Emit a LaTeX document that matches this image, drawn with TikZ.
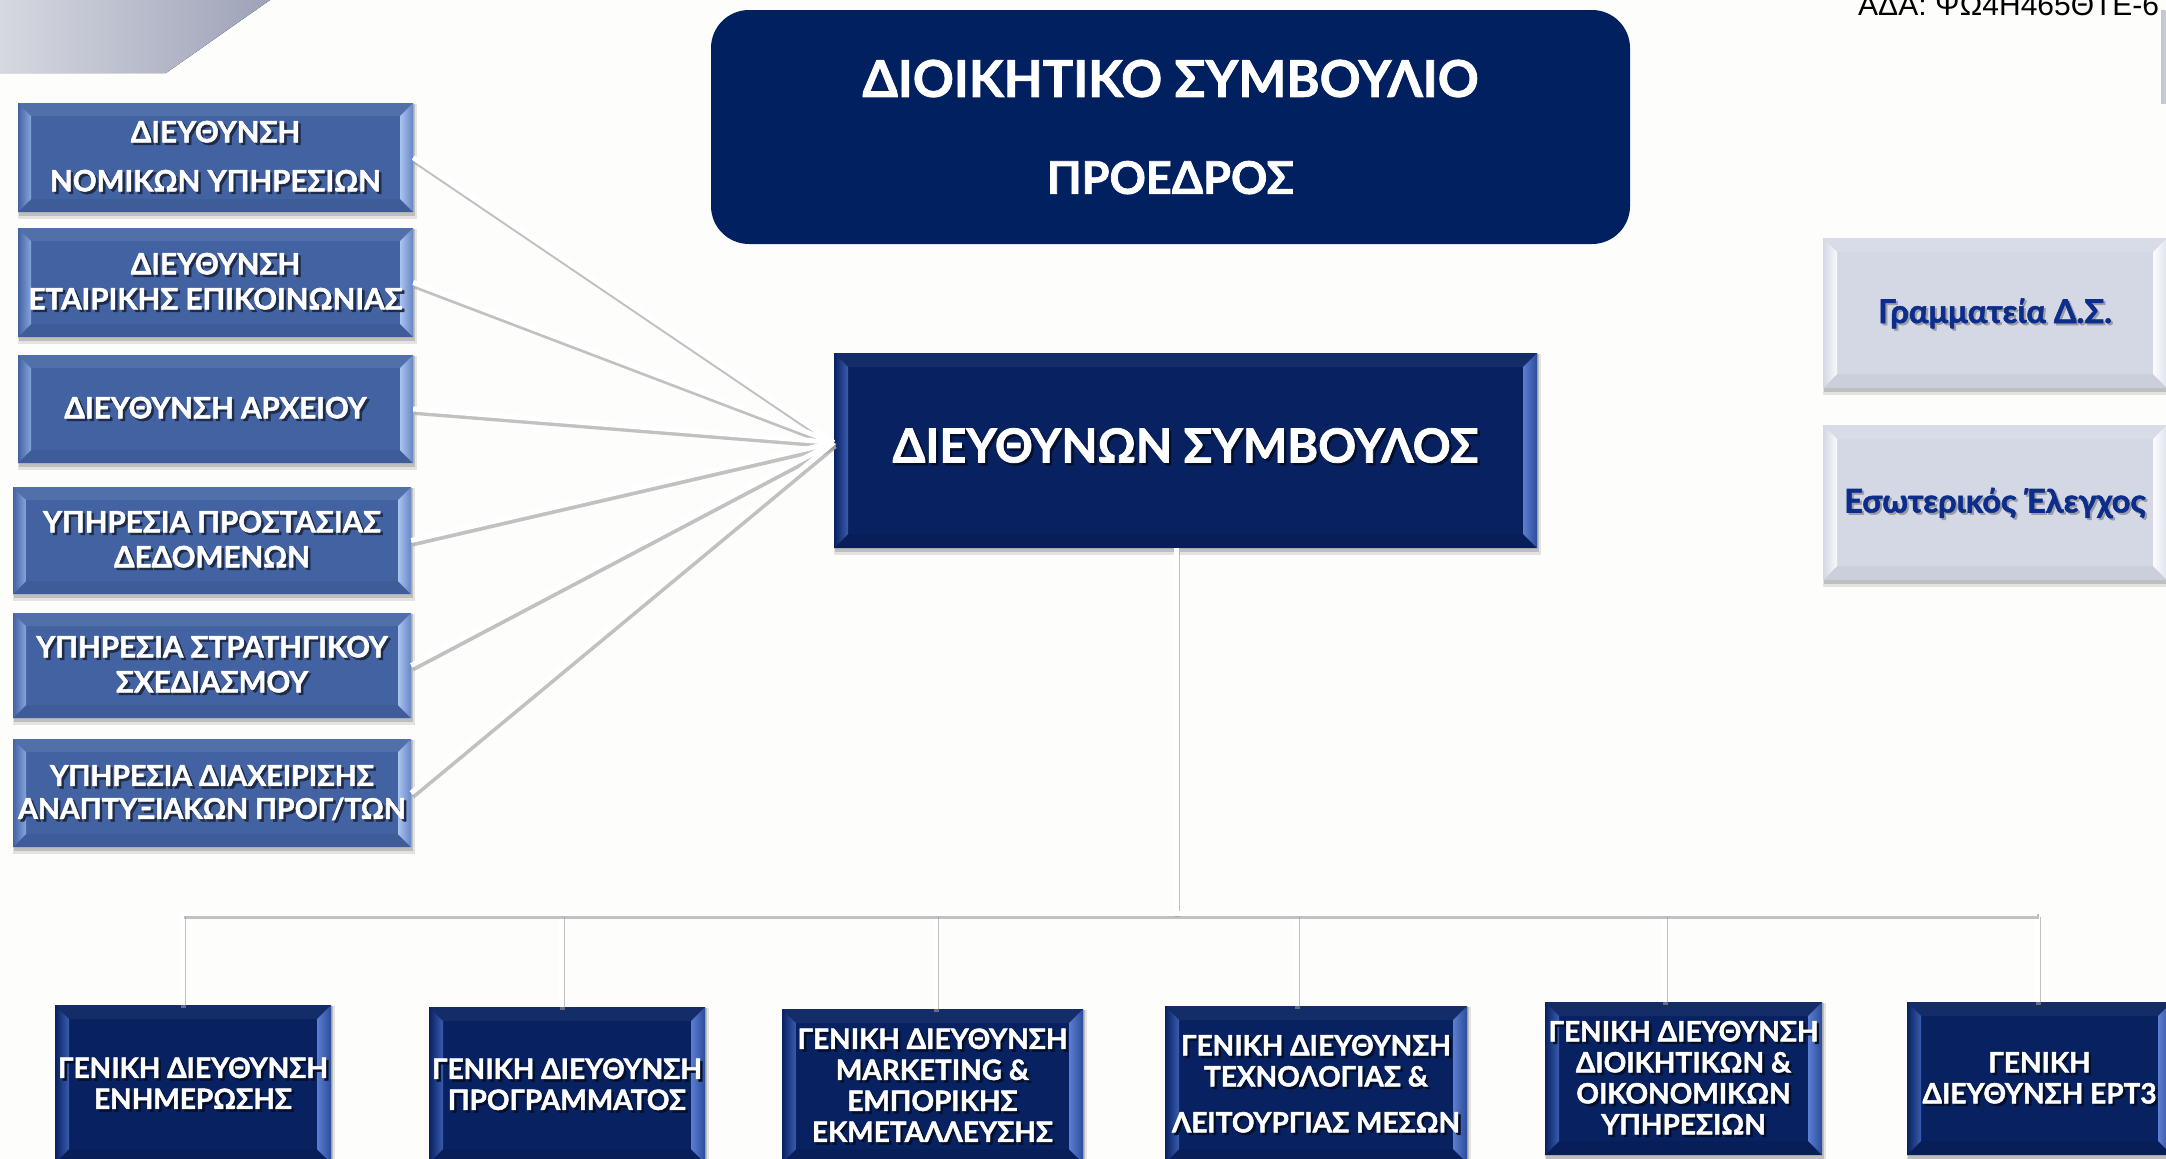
\documentclass[tikz,border=0pt]{standalone}
\usepackage{fontspec}
\setmainfont{Lato}[BoldFeatures={FakeBold=1.6}]
\newfontfamily\adafont{Liberation Sans}
\usetikzlibrary{calc}
\definecolor{bgc}{HTML}{FDFDFB}
\definecolor{navy}{HTML}{082160}
\definecolor{topnavy}{HTML}{002060}
\definecolor{midblue}{HTML}{4262A2}
\definecolor{rfill}{HTML}{D4D8E4}
\definecolor{rtext}{HTML}{0C2D8C}
\definecolor{gA}{HTML}{D6D8E1}
\definecolor{gB}{HTML}{9EA2B7}
\definecolor{nLin}{HTML}{3A5CB0}
\definecolor{nRin}{HTML}{5C7ED0}
\definecolor{nRout}{HTML}{2B4C9C}
\definecolor{lLin}{HTML}{86A5DE}
\definecolor{lRin}{HTML}{A9C4F0}
\definecolor{lRout}{HTML}{6786C4}
\pgfdeclarelayer{bglayer}
\pgfdeclarelayer{shadowlayer}
\pgfsetlayers{bglayer,shadowlayer,main}

\newcommand\bevfour[5]{%
  \path (path picture bounding box.north west) coordinate (bNW)
        (path picture bounding box.north east) coordinate (bNE)
        (path picture bounding box.south west) coordinate (bSW)
        (path picture bounding box.south east) coordinate (bSE);
  \fill[#2] (bNW) -- (bNE) -- ([shift={(-#1,-#1)}]bNE) -- ([shift={(#1,-#1)}]bNW) -- cycle;
  \fill[#5] (bSW) -- (bSE) -- ([shift={(-#1,#1)}]bSE) -- ([shift={(#1,#1)}]bSW) -- cycle;
  \fill[#3] (bNW) -- ([shift={(#1,-#1)}]bNW) -- ([shift={(#1,#1)}]bSW) -- (bSW) -- cycle;
  \fill[#4] (bNE) -- ([shift={(-#1,-#1)}]bNE) -- ([shift={(-#1,#1)}]bSE) -- (bSE) -- cycle;
}
\newcommand\boxshadow[1]{%
  \begin{pgfonlayer}{shadowlayer}
    \fill[black,opacity=0.10] ([shift={(0pt,-1pt)}]#1.north west) rectangle ([shift={(4pt,-7pt)}]#1.south east);
    \fill[black,opacity=0.16] ([shift={(1pt,-1pt)}]#1.north west) rectangle ([shift={(2pt,-4pt)}]#1.south east);
  \end{pgfonlayer}}
\newcommand\link[2]{%
  \draw[lnshadow] ([shift={(1.5pt,-3.5pt)}]#1) -- ([shift={(1.5pt,-3.5pt)}]#2);
  \draw[lnmain] (#1) -- (#2);}
% text with a soft drop shadow
\newcommand\fixstrut{\rule{0pt}{\dimexpr 0.72em+0.3\baselineskip+8pt\relax}}
\newcommand\shtx[3]{\leavevmode\rlap{\smash{\kern#3\raisebox{-#3}{\textcolor{#1}{\begin{tabular}{@{}c@{}}\fixstrut#2\end{tabular}}}}}\begin{tabular}{@{}c@{}}\fixstrut#2\end{tabular}}

\tikzset{
  lnshadow/.style={draw=black!40, line width=5pt, opacity=0.6},
  lnmain/.style={draw=white, line width=5pt},
  basebox/.style={rectangle, inner sep=0pt, align=center, font=\bfseries},
  lbox/.style={basebox, fill=midblue, text=white,
    font=\bfseries\fontsize{29.5}{35}\selectfont,
    path picture={\bevfour{13pt}{midblue!92!white}{left color=midblue, right color=lLin}{left color=lRin, right color=lRout}{midblue!94!black}}},
  nbox/.style={basebox, fill=navy, text=white,
    path picture={\bevfour{14pt}{navy!95!white}{left color=navy, right color=nLin}{left color=nRin, right color=nRout}{navy!92!black}}},
  bbox/.style={nbox, font=\bfseries\fontsize{28}{31}\selectfont},
  rbox/.style={basebox, fill=rfill, text=rtext,
    font=\bfseries\fontsize{32.5}{38}\selectfont,
    path picture={\bevfour{14pt}{rfill!90!white}{left color=rfill, right color=white!85!rfill}{left color=white!90!rfill, right color=rfill!70!white}{rfill!96!black}}},
}
\newcommand\ls[1]{\shtx{midblue!45!black}{#1}{2.5pt}}
\newcommand\ns[1]{\shtx{navy!45!black}{#1}{2.5pt}}
\newcommand\rs[1]{\shtx{rfill!72!black}{#1}{2pt}}

\begin{document}
\begin{tikzpicture}[x=1pt,y=-1pt]
\useasboundingbox (0,0) rectangle (2166,1159);
\begin{pgfonlayer}{bglayer}
  \fill[bgc] (0,0) rectangle (2166,1159);
  \fill[left color=gA, right color=gB] (0,0) -- (270,0) -- (166,73) -- (0,73) -- cycle;
  \fill[left color=rfill!80!gray, right color=rfill] (2161,10) rectangle (2175,103);
\end{pgfonlayer}

% top text
\node[anchor=base west, inner sep=0pt, font=\adafont\fontsize{30}{36}\selectfont, text=black] (ada) at (1858,15) {ΑΔΑ: ΨΩ4Η465ΘΤΕ-6};

% board
\node[rectangle, rounded corners=38pt, fill=topnavy, text=white, inner sep=0pt,
      minimum width=919pt, minimum height=234pt, align=center,
      font=\bfseries\fontsize{50.7}{60}\selectfont] (board) at (1170.5,127)
      {ΔΙΟΙΚΗΤΙΚΟ ΣΥΜΒΟΥΛΙΟ\\[37pt]{\fontsize{45}{60}\selectfont ΠΡΟΕΔΡΟΣ}};

% CEO
\node[nbox, minimum width=703pt, minimum height=195pt,
      font=\bfseries\fontsize{47}{60}\selectfont] (ceo) at (1185.5,450.5) {\ns{ΔΙΕΥΘΥΝΩΝ ΣΥΜΒΟΥΛΟΣ}};

% left column
\node[lbox, minimum width=395pt, minimum height=109pt] (l1) at (215.5,157.5) {\ls{ΔΙΕΥΘΥΝΣΗ\\[14pt]ΝΟΜΙΚΩΝ ΥΠΗΡΕΣΙΩΝ}};
\node[lbox, minimum width=395pt, minimum height=109pt] (l2) at (215.5,282.5) {\ls{ΔΙΕΥΘΥΝΣΗ\\ΕΤΑΙΡΙΚΗΣ ΕΠΙΚΟΙΝΩΝΙΑΣ}};
\node[lbox, minimum width=395pt, minimum height=108pt] (l3) at (215.5,409) {\ls{ΔΙΕΥΘΥΝΣΗ ΑΡΧΕΙΟΥ}};
\node[lbox, minimum width=398pt, minimum height=107pt] (l4) at (212,540.5) {\ls{ΥΠΗΡΕΣΙΑ ΠΡΟΣΤΑΣΙΑΣ\\ΔΕΔΟΜΕΝΩΝ}};
\node[lbox, minimum width=398pt, minimum height=105pt] (l5) at (212,665.5) {\ls{ΥΠΗΡΕΣΙΑ ΣΤΡΑΤΗΓΙΚΟΥ\\ΣΧΕΔΙΑΣΜΟΥ}};
\node[lbox, minimum width=398pt, minimum height=108pt, font=\bfseries\fontsize{28.5}{33}\selectfont] (l6) at (212,793) {\ls{ΥΠΗΡΕΣΙΑ ΔΙΑΧΕΙΡΙΣΗΣ\\ΑΝΑΠΤΥΞΙΑΚΩΝ ΠΡΟΓ/ΤΩΝ}};

% right column
\node[rbox, minimum width=344pt, minimum height=150pt] (r1) at (1995,313) {\rs{Γραμματεία Δ.Σ.}};
\node[rbox, minimum width=344pt, minimum height=155pt] (r2) at (1995,502.5) {\rs{Εσωτερικός Έλεγχος}};

% bottom row
\node[bbox, minimum width=276pt, minimum height=158pt] (b1) at (193,1084) {\ns{ΓΕΝΙΚΗ ΔΙΕΥΘΥΝΣΗ\\ΕΝΗΜΕΡΩΣΗΣ}};
\node[bbox, minimum width=276pt, minimum height=156pt] (b2) at (567,1085) {\ns{ΓΕΝΙΚΗ ΔΙΕΥΘΥΝΣΗ\\ΠΡΟΓΡΑΜΜΑΤΟΣ}};
\node[bbox, minimum width=301pt, minimum height=154pt] (b3) at (932.5,1086) {\ns{ΓΕΝΙΚΗ ΔΙΕΥΘΥΝΣΗ\\MARKETING \&\\ΕΜΠΟΡΙΚΗΣ\\ΕΚΜΕΤΑΛΛΕΥΣΗΣ}};
\node[bbox, minimum width=302pt, minimum height=157pt] (b4) at (1316,1084.5) {\ns{ΓΕΝΙΚΗ ΔΙΕΥΘΥΝΣΗ\\ΤΕΧΝΟΛΟΓΙΑΣ \&\\[15pt]ΛΕΙΤΟΥΡΓΙΑΣ ΜΕΣΩΝ}};
\node[bbox, minimum width=277pt, minimum height=153pt] (b5) at (1683.5,1078.5) {\ns{ΓΕΝΙΚΗ ΔΙΕΥΘΥΝΣΗ\\ΔΙΟΙΚΗΤΙΚΩΝ \&\\ΟΙΚΟΝΟΜΙΚΩΝ\\ΥΠΗΡΕΣΙΩΝ}};
\node[bbox, minimum width=265pt, minimum height=153pt] (b6) at (2039.5,1078.5) {\ns{ΓΕΝΙΚΗ\\ΔΙΕΥΘΥΝΣΗ ΕΡΤ3}};

\foreach \n in {ceo,l1,l2,l3,l4,l5,l6,r1,r2,b1,b2,b3,b4,b5,b6} {\boxshadow{\n}}

% connectors left -> CEO
\coordinate (cv) at ([yshift=8pt]ceo.west);
\foreach \n in {l1,l2,l3,l4,l5,l6} {\link{\n.east}{cv}}

% trunk and bar
\coordinate (t1) at (1176,913);
\coordinate (d1) at (182,913);
\coordinate (d2) at (561,913);
\coordinate (d3) at (935,913);
\coordinate (d4) at (1296,913);
\coordinate (d5) at (1664,913);
\coordinate (d6) at (2037,913);
\coordinate (ct) at (ceo.south -| t1);
\foreach \i in {1,...,6} {\coordinate (e\i) at (d\i |- b\i.north);}
\foreach \i in {1,...,6} {\link{d\i}{e\i}}
\link{ct}{t1}
\link{d1}{d6}
\end{tikzpicture}
\end{document}
